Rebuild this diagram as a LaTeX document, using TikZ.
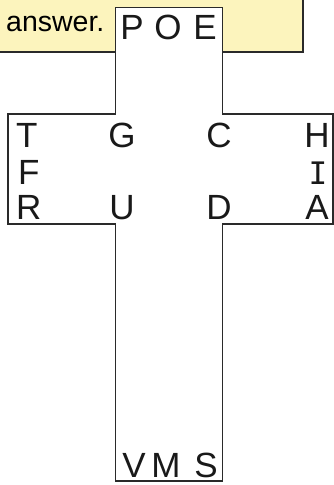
\documentclass[tikz,border=0pt]{standalone}
\usepackage{fontspec}
\setmainfont{Liberation Sans}
\newfontfamily\monofnt{DejaVu Sans Mono}
\definecolor{noteyellow}{HTML}{FCF4BD}
\definecolor{edge}{HTML}{2A2A2A}
\begin{document}
\begin{tikzpicture}[x=1pt,y=-1pt,
  letter/.style={inner sep=0pt,font=\fontsize{35}{40}\selectfont,text=black!90},
  outline/.style={draw=edge,line width=1.8pt,line join=miter}]
\useasboundingbox (0,0) rectangle (334,485);
% note box
\fill[noteyellow] (-5,-5) rectangle (303,52);
\draw[edge,line width=1.8pt] (-5,52) -- (303,52) -- (303,-5);
\node[inner sep=0pt,anchor=base west,font=\fontsize{28.5}{32}\selectfont] (ans) at (6,31) {answer.};
% cross
\path[outline,fill=white] (115.5,7.5) -- (222.5,7.5) -- (222.5,114) -- (333,114) -- (333,224)
  -- (222.5,224) -- (222.5,481) -- (115.5,481) -- (115.5,224) -- (8,224) -- (8,114)
  -- (115.5,114) -- cycle;
% top letters
\node[letter,anchor=base] (P) at (132,39) {P};
\node[letter,anchor=base] (O) at (168,39) {O};
\node[letter,anchor=base] (E) at (205,39) {E};
% left
\node[letter,anchor=base west] (T) at (16,147) {T};
\node[letter,anchor=base west] (F) at (18,184) {F};
\node[letter,anchor=base west] (R) at (16,219) {R};
% inner
\node[letter,anchor=base] (G) at (122,147) {G};
\node[letter,anchor=base] (U) at (122,219) {U};
\node[letter,anchor=base] (C) at (219,147) {C};
\node[letter,anchor=base] (D) at (219,219) {D};
% right
\node[letter,anchor=base] (H) at (317,147) {H};
\node[letter,anchor=base,font=\monofnt\fontsize{31}{36}\selectfont] (I) at (318,184) {I};
\node[letter,anchor=base] (A) at (317,219) {A};
% bottom
\node[letter,anchor=base] (V) at (134,477) {V};
\node[letter,anchor=base] (M) at (166,477) {M};
\node[letter,anchor=base] (S) at (206,477) {S};
\end{tikzpicture}
\end{document}
